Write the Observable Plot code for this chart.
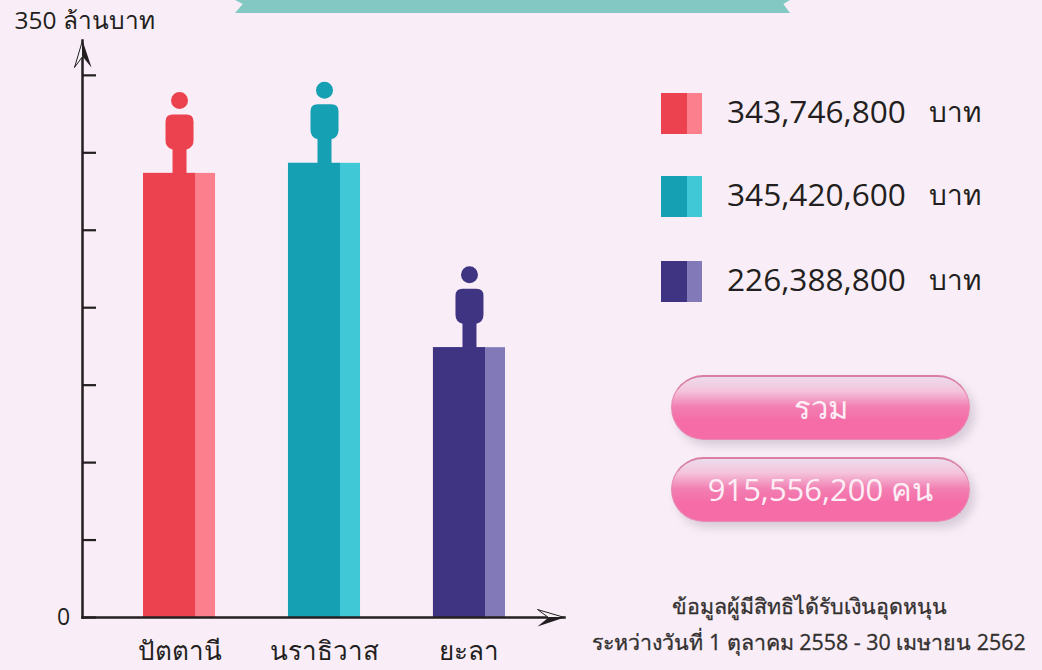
<!DOCTYPE html>
<html lang="th">
<head>
<meta charset="utf-8">
<script src="https://cdn.jsdelivr.net/npm/d3@7"></script>
<script src="https://cdn.jsdelivr.net/npm/@observablehq/plot@0.6"></script>
<style>
  html, body { margin: 0; padding: 0; background: #f9eef7; }
  body { width: 1042px; height: 670px; overflow: hidden; position: relative;
         font-family: "Open Sans", "Noto Sans", "Liberation Sans", sans-serif; color: #231f20; }
  #chart { position: absolute; left: 0; top: 0; }
  #banner { position: absolute; left: 235px; top: 0; width: 555px; height: 13px; background: #84c8c4;
            clip-path: polygon(0 0, 100% 0, 98.8% 30%, 100% 100%, 0 100%, 1.4% 30%); }
  .swatch { position: absolute; left: 661px; width: 41px; height: 41px; }
  .swatch i { position: absolute; top: 0; bottom: 0; display: block; }
  .amount { position: absolute; left: 727px; font-size: 31.6px; line-height: 40px; white-space: nowrap; }
  .unit { position: absolute; left: 929px; font-size: 28px; line-height: 40px; white-space: nowrap; }
  .pill { position: absolute; left: 671px; width: 299px; box-sizing: border-box; border-radius: 33px;
          text-align: center; color: #fdeef6; font-size: 31px; border: 1.5px solid #e58ab2; border-top: 2px solid #d97fa6;
          background: linear-gradient(#ecdcec 0%, #f4c4dc 22%, #f27fb2 48%, #f56ca7 70%, #f56ca7 100%);
          box-shadow: 5px 6px 9px rgba(130,120,140,.28); }
  .note { position: absolute; left: 560px; width: 498px; text-align: center; font-size: 21.4px;
          font-weight: 500; color: #33302f; white-space: nowrap; -webkit-text-stroke: 0.3px #33302f; }
</style>
</head>
<body>
<div id="banner"></div>
<div id="chart"></div>
<div id="side"></div>
<script>
const provinces = ["ปัตตานี", "นราธิวาส", "ยะลา"];
// Bar heights as drawn against the axis, in millions of baht (not to scale with the printed amounts).
const drawnHeights = [286.7, 293.2, 174.2];
const printedAmounts = ["343,746,800", "345,420,600", "226,388,800"];
const darkColors = ["#ec414f", "#16a0b4", "#3f3482"];
const lightColors = ["#fb7f8c", "#41c8d6", "#8279b9"];
const yTicks = [0, 50, 100, 150, 200, 250, 300, 350];
const axisTitle = "350 ล้านบาท";
const unitLabel = "บาท";
const totalTitle = "รวม";
const totalValue = "915,556,200 คน";
const noteLines = ["ข้อมูลผู้มีสิทธิได้รับเงินอุดหนุน", "ระหว่างวันที่ 1 ตุลาคม 2558 - 30 เมษายน 2562"];

const rows = provinces.map((p, i) => ({ p, v: drawnHeights[i], dark: darkColors[i], light: lightColors[i] }));

const person = { draw(c) {
  c.moveTo(8.5, -73); c.arc(0, -73, 8.5, 0, 2 * Math.PI); c.closePath();
  c.moveTo(-7, -59); c.lineTo(7, -59); c.quadraticCurveTo(14, -59, 14, -52);
  c.lineTo(14, -33); c.quadraticCurveTo(14, -26, 7, -24); c.lineTo(7, 0);
  c.lineTo(-7, 0); c.lineTo(-7, -24); c.quadraticCurveTo(-14, -26, -14, -33);
  c.lineTo(-14, -52); c.quadraticCurveTo(-14, -59, -7, -59); c.closePath();
}};
const headUpDark = { draw(c) { c.moveTo(0, 0); c.lineTo(9, 27); c.lineTo(0, 16); c.closePath(); } };
const headUpPale = { draw(c) { c.moveTo(0, 0); c.lineTo(-8, 27); c.lineTo(0, 16); c.closePath(); } };
const headRightDark = { draw(c) { c.moveTo(0, 0); c.lineTo(-27, 9); c.lineTo(-16, 0); c.closePath(); } };
const headRightPale = { draw(c) { c.moveTo(0, 0); c.lineTo(-27, -8); c.lineTo(-16, 0); c.closePath(); } };

const ink = "#231f20";
const font = '"Open Sans", "Noto Sans", "Liberation Sans", sans-serif';

const plot = Plot.plot({
  width: 1042, height: 670,
  marginLeft: 82, marginRight: 478, marginTop: 40, marginBottom: 53,
  style: { background: "transparent", fontFamily: font, color: ink },
  x: { domain: provinces, range: [143, 505], paddingInner: 0.503, paddingOuter: 0, align: 0, round: false, label: null },
  y: { domain: [0, 372.5], label: null },
  marks: [
    Plot.barY(rows, { x: "p", y: "v", fill: "light" }),
    Plot.barY(rows, { x: "p", y: "v", fill: "dark", insetRight: 20 }),
    Plot.dot(rows, { x: "p", y: "v", symbol: person, r: 10, fill: "dark", stroke: "none" }),
    Plot.frame({ anchor: "left", stroke: ink, strokeWidth: 2.5 }),
    Plot.frame({ anchor: "bottom", stroke: ink, strokeWidth: 2.5 }),
    Plot.axisY({ ticks: yTicks, tickSize: -14, tickFormat: () => "", stroke: ink, strokeWidth: 2.2, label: null }),
    Plot.axisX({ tickSize: 0, tickPadding: 24, fontSize: 26, fill: ink, label: null }),
    Plot.text([yTicks[0]], { y: d => d, text: d => String(d), frameAnchor: "left", dx: -19, textAnchor: "middle", fontSize: 23, fill: ink }),
    Plot.text([axisTitle], { frameAnchor: "top-left", dx: -68, dy: -19, textAnchor: "start", fontSize: 24.5, fill: ink, lineAnchor: "middle" }),
    Plot.dot([0], { frameAnchor: "top-left", symbol: headUpDark, r: 10, fill: ink, stroke: "none" }),
    Plot.dot([0], { frameAnchor: "top-left", symbol: headUpPale, r: 10, fill: "#f5f0f5", stroke: ink, strokeWidth: 1 }),
    Plot.dot([0], { frameAnchor: "bottom-right", symbol: headRightDark, r: 10, fill: ink, stroke: "none" }),
    Plot.dot([0], { frameAnchor: "bottom-right", symbol: headRightPale, r: 10, fill: "#f5f0f5", stroke: ink, strokeWidth: 1 })
  ]
});
document.getElementById("chart").append(plot);

const side = d3.select("#side");
const rowTops = [93, 176, 261];
printedAmounts.forEach((a, i) => {
  const s = side.append("div").attr("class", "swatch").style("top", rowTops[i] + "px");
  s.append("i").style("left", "0").style("width", "26px").style("background", darkColors[i]);
  s.append("i").style("left", "26px").style("width", "15px").style("background", lightColors[i]);
  side.append("div").attr("class", "amount").style("top", (rowTops[i] - 2) + "px").text(a);
  side.append("div").attr("class", "unit").style("top", (rowTops[i] - 2) + "px").text(unitLabel);
});
[[totalTitle, 375], [totalValue, 457]].forEach(([t, top]) => {
  side.append("div").attr("class", "pill").style("top", top + "px").style("height", "65px").style("line-height", "60px").text(t);
});
noteLines.forEach((t, i) => {
  side.append("div").attr("class", "note").style("top", (589 + i * 36) + "px").text(t);
});
</script>
</body>
</html>
